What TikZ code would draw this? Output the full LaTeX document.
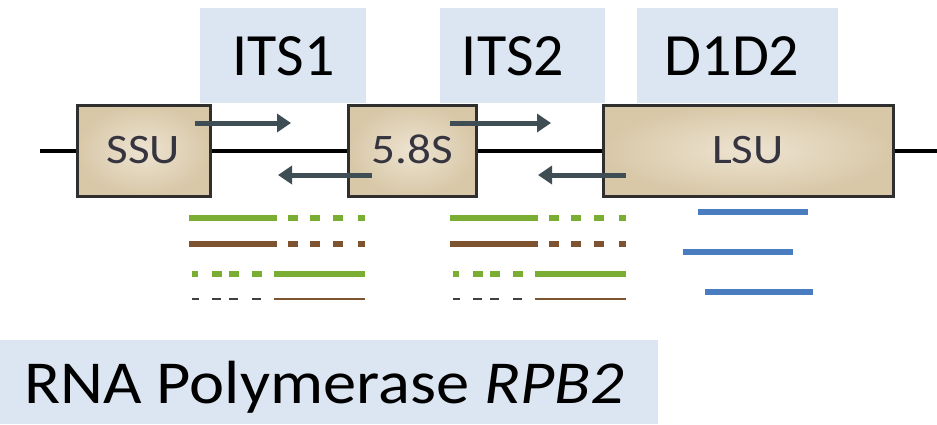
\documentclass[tikz,border=0pt]{standalone}
\usepackage{fontspec}
\setmainfont{Carlito}
\usetikzlibrary{arrows.meta}
\definecolor{lblfill}{HTML}{DCE6F2}
\definecolor{tanin}{HTML}{EDE3D1}
\definecolor{tanout}{HTML}{D8C8A8}
\definecolor{boxedge}{HTML}{2F2F2F}
\definecolor{arrcol}{HTML}{3F4D54}
\definecolor{grn}{HTML}{79AE33}
\definecolor{brn}{HTML}{7E5430}
\definecolor{blu}{HTML}{4A7CC0}
\definecolor{seqtext}{HTML}{36343F}
\tikzset{
  lblbox/.style={draw=none, fill=lblfill, inner sep=0pt, outer sep=0pt},
  lbltext/.style={inner sep=0pt, font=\fontsize{60}{70}\selectfont, text height=38pt, text depth=0pt},
  genebox/.style={draw=boxedge, line width=3pt, inner color=tanin, outer color=tanout, inner sep=0pt,
    font=\fontsize{42}{50}\selectfont, text=seqtext, text height=26pt, text depth=0pt},
  primer/.style={draw=arrcol, line width=5pt, -{Triangle[length=14pt,width=18pt]}},
  gbar/.style={draw=grn, line width=5.5pt},
  bbar/.style={draw=brn, line width=5.5pt},
  bthin/.style={draw=brn, line width=2.4pt},
  blbar/.style={draw=blu, line width=6pt},
}
\begin{document}
\begin{tikzpicture}[x=1pt,y=-1pt]
\useasboundingbox (0,0) rectangle (937,424);
% label boxes
\node[lblbox, minimum width=166pt, minimum height=95pt] (its1) at (283,55.5) {};
\node[lblbox, minimum width=165pt, minimum height=95pt] (its2) at (522.5,55.5) {};
\node[lblbox, minimum width=201pt, minimum height=95pt] (d1d2) at (737.5,55.5) {};
\node[lbltext] (its1t) at (283.5,56) {ITS1};
\node[lbltext] (its2t) at (513,56) {ITS2};
\node[lbltext] (d1d2t) at (732,56) {D1D2};
% backbone
\coordinate (lstart) at (40,151);
\coordinate (lend) at (937,151);
\draw[line width=4.5pt] (lstart) -- (lend);
% gene boxes
\node[genebox, minimum width=133pt, minimum height=91pt] (ssu) at (143.5,150.5) {\scalebox{1.12}[1]{SSU}};
\node[genebox, minimum width=128pt, minimum height=91pt] (s58) at (412.5,150.5) {\scalebox{1.12}[1]{5.8S}};
\node[genebox, minimum width=290pt, minimum height=91pt] (lsu) at (748,150.5) {\scalebox{1.12}[1]{LSU}};
% primers
\coordinate (f1s) at (195,123); \coordinate (f1e) at (291,123);
\coordinate (r1s) at (372,175); \coordinate (r1e) at (278,175);
\coordinate (f2s) at (450,123); \coordinate (f2e) at (551,123);
\coordinate (r2s) at (626,175); \coordinate (r2e) at (538,175);
\draw[primer] (f1s) -- (f1e);
\draw[primer] (r1s) -- (r1e);
\draw[primer] (f2s) -- (f2e);
\draw[primer] (r2s) -- (r2e);
% amplicon bars
\foreach \dx in {0,261}{
  \begin{scope}[xshift=\dx pt]
    \draw[gbar] (189,218) -- (277,218);
    \foreach \a/\b in {288/298,310/320,333/343,358/365} \draw[gbar] (\a,218) -- (\b,218);
    \draw[bbar] (189,244) -- (277,244);
    \foreach \a/\b in {288/298,310/320,333/343,358/365} \draw[bbar] (\a,244) -- (\b,244);
    \foreach \a/\b in {192/198,212/222,229/239,252/262} \draw[gbar] (\a,274) -- (\b,274);
    \draw[gbar] (274,274) -- (365,274);
    \foreach \a/\b in {192/199,212/221,229/238,252/261} \draw[bthin, draw=black!75] (\a,299) -- (\b,299);
    \draw[bthin] (274,299) -- (365,299);
  \end{scope}
}
\draw[blbar] (698,212) -- (808,212);
\draw[blbar] (683,252) -- (793,252);
\draw[blbar] (705,292) -- (813,292);
% RPB2 label
\node[lblbox, minimum width=658pt, minimum height=84pt] (rpb) at (329,382) {};
\node[inner sep=0pt, anchor=base west, font=\fontsize{61}{70}\selectfont] (rpbt) at (24,403) {\scalebox{1.09}[1]{RNA Polymerase \textit{RPB2}}};
\end{tikzpicture}
\end{document}
